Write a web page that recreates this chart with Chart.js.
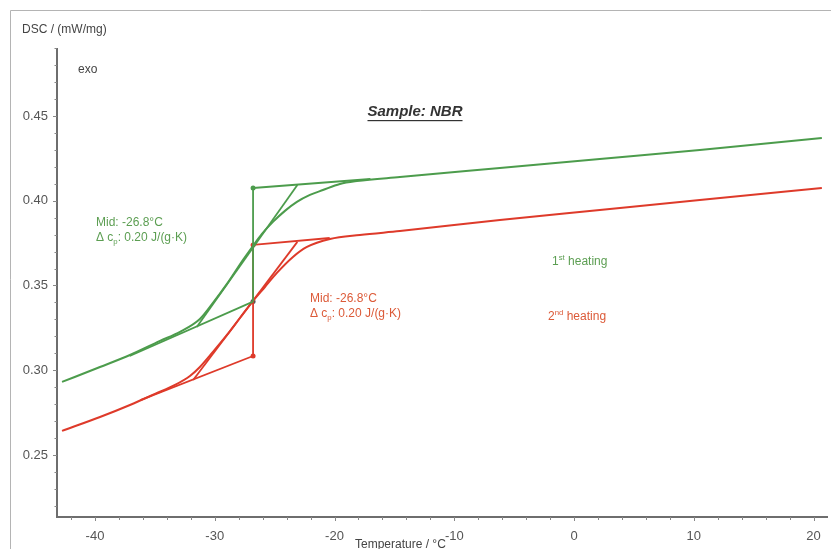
<!DOCTYPE html>
<html>
<head>
<meta charset="utf-8">
<script src="https://cdn.jsdelivr.net/npm/chart.js@4.4.0/dist/chart.umd.min.js"></script>
<style>
html, body { margin: 0; padding: 0; background: #fff; }
#wrap { width: 831px; height: 549px; }
</style>
</head>
<body>
<div id="wrap"><canvas id="dsc" width="831" height="549"></canvas></div>
<script>
// 1st heating (green): temperature / °C, DSC / (mW/mg)
var heat1T   = [-42.75, -39.58, -37.08, -34.57, -32.90, -31.24, -30.15, -28.98, -27.65, -26.81, -26.06, -25.14, -24.14, -23.14, -22.05, -20.97, -19.55, -18.13, -14.54, -6.19, 2.15, 10.50, 20.69];
var heat1DSC = [0.2931, 0.3019, 0.3090, 0.3173, 0.3226, 0.3302, 0.3397, 0.3509, 0.3650, 0.3733, 0.3804, 0.3875, 0.3940, 0.3993, 0.4034, 0.4063, 0.4099, 0.4116, 0.4140, 0.4193, 0.4246, 0.4299, 0.4370];

// 2nd heating (red)
var heat2T   = [-42.75, -39.58, -37.08, -34.99, -33.32, -32.07, -31.24, -30.15, -28.98, -27.90, -26.81, -25.81, -24.81, -23.47, -22.30, -20.38, -17.88, -14.54, -6.19, 2.15, 10.50, 20.69];
var heat2DSC = [0.2642, 0.2724, 0.2795, 0.2860, 0.2913, 0.2966, 0.3019, 0.3108, 0.3208, 0.3308, 0.3408, 0.3491, 0.3574, 0.3668, 0.3727, 0.3774, 0.3798, 0.3821, 0.3886, 0.3945, 0.4004, 0.4075];

// glass transition evaluation, end points [T, DSC]
var tg1Lower   = [[-37.1, 0.3084], [-26.8, 0.3405]];
var tg1Inflect = [[-31.5, 0.3255], [-23.1, 0.4093]];
var tg1Upper   = [[-26.8, 0.4075], [-17.0, 0.4128]];
var tg1Step    = [[-26.8, 0.4075], [-26.8, 0.3405]];

var tg2Lower   = [[-36.2, 0.2824], [-26.8, 0.3084]];
var tg2Inflect = [[-31.8, 0.2942], [-23.1, 0.3757]];
var tg2Upper   = [[-26.8, 0.3739], [-20.4, 0.3780]];
var tg2Step    = [[-26.8, 0.3739], [-26.8, 0.3084]];

var markT   = [-26.8, -26.8, -26.8, -26.8];
var markDSC = [0.4075, 0.3739, 0.3405, 0.3084];

var xTicks = [-40, -30, -20, -10, 0, 10, 20];
var yTicks = [0.25, 0.30, 0.35, 0.40, 0.45];

var GREEN = '#4c9c4c';
var RED = '#de3a2a';
var GREEN_TXT = '#5c9e52';
var RED_TXT = '#dc5a38';
var FONT = '"Liberation Sans", Arial, sans-serif';

function pairs(ts, vs) {
    return ts.map(function (t, i) { return { x: t, y: vs[i] }; });
}
function seg(list) {
    return list.map(function (p) { return { x: p[0], y: p[1] }; });
}
function lineSet(data, color, width, smooth) {
    return {
        data: data,
        borderColor: color,
        borderWidth: width,
        pointRadius: 0,
        cubicInterpolationMode: smooth ? 'monotone' : 'default',
        tension: 0,
        fill: false
    };
}

// text with sub/superscript pieces: [text, 0 normal | 1 sup | -1 sub]
function richText(ctx, x, y, pieces, size) {
    pieces.forEach(function (p) {
        var s = p[1] === 0 ? size : size * 0.65;
        var dy = p[1] === 1 ? -size * 0.35 : (p[1] === -1 ? size * 0.3 : 0);
        ctx.font = s + 'px ' + FONT;
        ctx.fillText(p[0], x, y + dy);
        x += ctx.measureText(p[0]).width;
    });
}

var decor = {
    id: 'decor',
    beforeDraw: function (chart) {
        var ctx = chart.ctx;
        ctx.save();
        ctx.fillStyle = '#fff';
        ctx.fillRect(0, 0, chart.width, chart.height);
        ctx.strokeStyle = '#b4b4b4';
        ctx.lineWidth = 1;
        ctx.beginPath();
        ctx.moveTo(10.5, chart.height);
        ctx.lineTo(10.5, 10.5);
        ctx.lineTo(chart.width, 10.5);
        ctx.stroke();
        ctx.restore();
    },
    afterDraw: function (chart) {
        var ctx = chart.ctx;
        var xs = chart.scales.x, ys = chart.scales.y;
        var a = chart.chartArea;
        ctx.save();
        // axes
        ctx.strokeStyle = '#6e6e6e';
        ctx.lineWidth = 2;
        ctx.beginPath();
        ctx.moveTo(a.left, a.top);
        ctx.lineTo(a.left, a.bottom);
        ctx.lineTo(a.right + 1, a.bottom);
        ctx.stroke();
        // ticks
        ctx.lineWidth = 1;
        ctx.strokeStyle = '#888';
        ctx.beginPath();
        for (var t = -42; t <= 21; t += 2) {
            var px = Math.round(xs.getPixelForValue(t)) + 0.5;
            ctx.moveTo(px, a.bottom);
            ctx.lineTo(px, a.bottom + (t % 10 === 0 ? 4 : 3));
        }
        for (var k = 22; k <= 49; k++) {
            var v = k / 100;
            var py = Math.round(ys.getPixelForValue(v)) + 0.5;
            ctx.moveTo(a.left, py);
            ctx.lineTo(a.left - (k % 5 === 0 ? 4 : 2.5), py);
        }
        ctx.stroke();

        // axis titles
        ctx.fillStyle = '#444';
        ctx.textBaseline = 'middle';
        ctx.textAlign = 'left';
        ctx.font = '12px ' + FONT;
        ctx.fillText('DSC / (mW/mg)', 22, 30);
        ctx.fillText('exo', 78, 70);
        ctx.fillText('Temperature / °C', 355, 545);

        // sample title
        ctx.fillStyle = '#333';
        ctx.font = 'italic bold 15px ' + FONT;
        ctx.textAlign = 'center';
        ctx.fillText('Sample: NBR', 415, 112);
        var w = ctx.measureText('Sample: NBR').width;
        ctx.fillRect(415 - w / 2, 120, w, 1.2);
        ctx.textAlign = 'left';

        // evaluation labels
        ctx.fillStyle = GREEN_TXT;
        ctx.font = '12px ' + FONT;
        ctx.fillText('Mid: -26.8°C', 96, 223);
        richText(ctx, 96, 238, [['Δ c', 0], ['p', -1], [': 0.20 J/(g·K)', 0]], 12);
        richText(ctx, 552, 262, [['1', 0], ['st', 1], [' heating', 0]], 12);

        ctx.fillStyle = RED_TXT;
        ctx.font = '12px ' + FONT;
        ctx.fillText('Mid: -26.8°C', 310, 299);
        richText(ctx, 310, 314, [['Δ c', 0], ['p', -1], [': 0.20 J/(g·K)', 0]], 12);
        richText(ctx, 548, 317, [['2', 0], ['nd', 1], [' heating', 0]], 12);
        ctx.restore();
    }
};

var ctx = document.getElementById('dsc').getContext('2d');

var chart = new Chart(ctx, {
    type: 'line',
    data: {
        datasets: [
            lineSet(pairs(heat1T, heat1DSC), GREEN, 2, true),
            lineSet(seg(tg1Lower), GREEN, 1.8, false),
            lineSet(seg(tg1Inflect), GREEN, 1.8, false),
            lineSet(seg(tg1Upper), GREEN, 1.8, false),
            lineSet(seg(tg1Step), GREEN, 1.8, false),
            lineSet(pairs(heat2T, heat2DSC), RED, 2, true),
            lineSet(seg(tg2Lower), RED, 1.8, false),
            lineSet(seg(tg2Inflect), RED, 1.8, false),
            lineSet(seg(tg2Upper), RED, 1.8, false),
            lineSet(seg(tg2Step), RED, 1.8, false),
            {
                data: pairs(markT, markDSC),
                showLine: false,
                pointRadius: 2.5,
                pointBorderWidth: 0,
                pointBackgroundColor: [GREEN, RED, '#555', RED]
            }
        ]
    },
    options: {
        responsive: false,
        animation: false,
        devicePixelRatio: 1,
        layout: { padding: { top: 48, left: 0, right: 0, bottom: 0 } },
        plugins: {
            legend: { display: false },
            tooltip: { enabled: false }
        },
        scales: {
            x: {
                type: 'linear',
                min: -43.17,
                max: 21.12,
                grid: { display: false, drawTicks: false },
                border: { display: false },
                afterBuildTicks: function (scale) {
                    scale.ticks = xTicks.map(function (v) { return { value: v }; });
                },
                afterFit: function (scale) {
                    scale.height = 32;
                    scale.paddingLeft = 0;
                    scale.paddingRight = 0;
                },
                ticks: {
                    padding: 12,
                    color: '#555',
                    font: { family: FONT, size: 13 },
                    maxRotation: 0,
                    autoSkip: false,
                    callback: function (v) { return String(v); }
                }
            },
            y: {
                type: 'linear',
                min: 0.2134,
                max: 0.4901,
                grid: { display: false, drawTicks: false },
                border: { display: false },
                afterBuildTicks: function (scale) {
                    scale.ticks = yTicks.map(function (v) { return { value: v }; });
                },
                afterFit: function (scale) {
                    scale.width = 57;
                    scale.paddingTop = 0;
                    scale.paddingBottom = 0;
                },
                ticks: {
                    padding: 9,
                    color: '#555',
                    font: { family: FONT, size: 13 },
                    callback: function (v) { return v.toFixed(2); }
                }
            }
        }
    },
    plugins: [decor]
});
</script>
</body>
</html>
